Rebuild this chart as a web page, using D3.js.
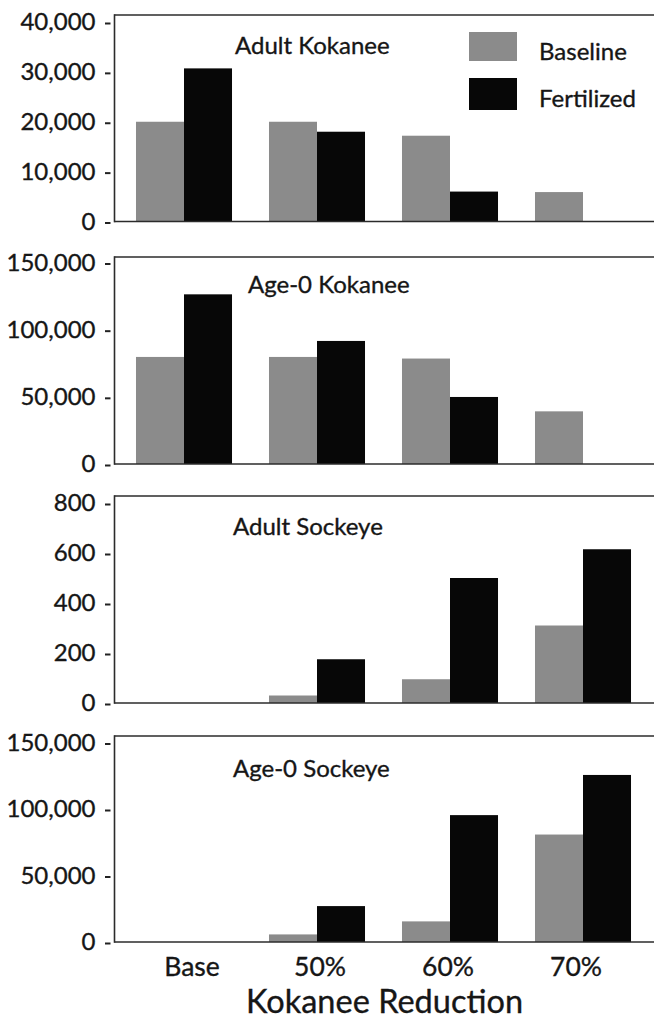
<!DOCTYPE html>
<html>
<head>
<meta charset="utf-8">
<script src="https://cdn.jsdelivr.net/npm/d3@7"></script>
<style>
  html, body { margin: 0; padding: 0; background: #fff; }
  svg { display: block; }
  text { font-family: Lato, "Noto Sans", sans-serif; fill: #161616; stroke: #161616; stroke-width: 0.35px; }
</style>
</head>
<body>
<svg id="chart" width="654" height="1020"></svg>
<script>
// ---- data ----
const categories = ["Base", "50%", "60%", "70%"];
const seriesNames = ["Baseline", "Fertilized"];
const panelTitles = ["Adult Kokanee", "Age-0 Kokanee", "Adult Sockeye", "Age-0 Sockeye"];

const adultKokaneeBaseline   = [20000, 20000, 17200, 5900];
const adultKokaneeFertilized = [30700, 18000, 6000, 0];
const age0KokaneeBaseline    = [79700, 79700, 78500, 39200];
const age0KokaneeFertilized  = [126300, 91600, 49900, 0];
const adultSockeyeBaseline   = [0, 30, 95, 310];
const adultSockeyeFertilized = [0, 175, 500, 615];
const age0SockeyeBaseline    = [0, 5700, 15500, 80800];
const age0SockeyeFertilized  = [0, 27000, 95400, 125600];

const adultKokaneeTicks = [0, 10000, 20000, 30000, 40000];
const age0KokaneeTicks  = [0, 50000, 100000, 150000];
const adultSockeyeTicks = [0, 200, 400, 600, 800];
const age0SockeyeTicks  = [0, 50000, 100000, 150000];

const xAxisTitle = "Kokanee Reduction";

// ---- layout ----
const W = 654;
const axisX = 114.5;
const colors = { Baseline: "#8b8b8b", Fertilized: "#070707" };
const lineColor = "#2b2b2b";

const panels = [
  { title: panelTitles[0], base: adultKokaneeBaseline, fert: adultKokaneeFertilized, ticks: adultKokaneeTicks, max: 40000, zero: 221.5, top: 22, frameTop: 15, titleX: 235, titleY: 54 },
  { title: panelTitles[1], base: age0KokaneeBaseline, fert: age0KokaneeFertilized, ticks: age0KokaneeTicks, max: 150000, zero: 464, top: 262.5, frameTop: 257, titleX: 248, titleY: 293 },
  { title: panelTitles[2], base: adultSockeyeBaseline, fert: adultSockeyeFertilized, ticks: adultSockeyeTicks, max: 800, zero: 703, top: 503, frameTop: 496, titleX: 233, titleY: 535 },
  { title: panelTitles[3], base: age0SockeyeBaseline, fert: age0SockeyeFertilized, ticks: age0SockeyeTicks, max: 150000, zero: 942, top: 742.5, frameTop: 736, titleX: 233, titleY: 777 }
];

const svg = d3.select("#chart");

const x0 = d3.scaleBand().domain(categories).range([117.5, 649.5]).paddingInner(0.278).paddingOuter(0.139);
const x1 = d3.scaleBand().domain(seriesNames).range([0, x0.bandwidth()]).padding(0);

panels.forEach((p, pi) => {
  const y = d3.scaleLinear().domain([0, p.max]).range([p.zero, p.top]);
  const g = svg.append("g");

  // bars
  const rows = categories.map((c, i) => ({ cat: c, vals: [{ s: "Baseline", v: p.base[i] }, { s: "Fertilized", v: p.fert[i] }] }));
  const grp = g.selectAll("g.grp").data(rows).join("g")
    .attr("class", "grp")
    .attr("transform", d => `translate(${x0(d.cat)},0)`);
  grp.selectAll("rect").data(d => d.vals.filter(e => e.v > 0)).join("rect")
    .attr("x", d => x1(d.s))
    .attr("width", x1.bandwidth())
    .attr("y", d => y(d.v))
    .attr("height", d => y(0) - y(d.v))
    .attr("fill", d => colors[d.s]);

  // frame
  g.append("line").attr("x1", axisX).attr("x2", W).attr("y1", p.frameTop).attr("y2", p.frameTop)
    .attr("stroke", lineColor).attr("stroke-width", 1.6);
  g.append("line").attr("x1", axisX).attr("x2", W).attr("y1", p.zero).attr("y2", p.zero)
    .attr("stroke", lineColor).attr("stroke-width", 1.6);
  g.append("line").attr("x1", axisX).attr("x2", axisX).attr("y1", p.frameTop - 0.8).attr("y2", p.zero + 0.8)
    .attr("stroke", lineColor).attr("stroke-width", 1.6);

  // y axis
  const ax = g.append("g").attr("transform", `translate(${axisX},0)`)
    .call(d3.axisLeft(y).tickValues(p.ticks).tickSize(0).tickPadding(19).tickFormat(d3.format(",")));
  ax.select(".domain").remove();
  ax.selectAll(".tick text").style("font-size", "24px").style("font-family", "Lato, sans-serif").attr("fill", "#161616");
  ax.selectAll(".tick").append("line").attr("x1", -9.5).attr("x2", -4).attr("y1", 1).attr("y2", 1)
    .attr("stroke", "#222").attr("stroke-width", 2);

  // title
  g.append("text").attr("x", p.titleX).attr("y", p.titleY).text(p.title)
    .style("font-size", "24px");
});

// legend
const legend = svg.append("g");
const legendItems = [{ s: "Baseline", y: 32, h: 29, ty: 60 }, { s: "Fertilized", y: 78, h: 32, ty: 107 }];
legendItems.forEach(it => {
  legend.append("rect").attr("x", 469).attr("y", it.y).attr("width", 48).attr("height", it.h).attr("fill", colors[it.s]);
  legend.append("text").attr("x", 539).attr("y", it.ty).text(it.s).style("font-size", "24px");
});

// category axis
const xl = d3.scaleBand().domain(categories).range([128, 640]);
const xa = svg.append("g").attr("transform", "translate(0,942)")
  .call(d3.axisBottom(xl).tickSize(0).tickPadding(15));
xa.select(".domain").remove();
xa.selectAll(".tick text").style("font-size", "26.5px").style("font-family", "Lato, sans-serif").attr("fill", "#161616");

svg.append("text").attr("x", 384.5).attr("y", 1013).attr("text-anchor", "middle")
  .text(xAxisTitle).style("font-size", "32.5px");
</script>
</body>
</html>
